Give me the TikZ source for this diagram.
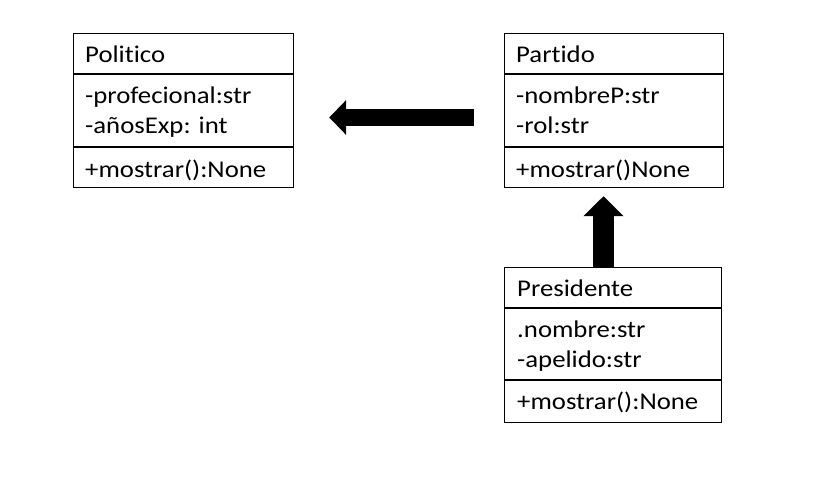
\documentclass[tikz,border=0pt]{standalone}
\usepackage{fontspec}
\setmainfont{Carlito}[FakeStretch=1.115, Ligatures=NoCommon]
\usetikzlibrary{arrows.meta}
\begin{document}
\begin{tikzpicture}[x=1pt,y=-1pt,
  box/.style={draw, line width=1.2pt, rectangle, inner sep=0pt, anchor=north west},
  txt/.style={anchor=base west, inner sep=0pt, font=\fontsize{24}{28}\selectfont},
  sep/.style={line width=1.2pt},
  bigarrow/.style={line width=17pt, -{Triangle[length=17pt,width=34pt]}}]
\useasboundingbox (0,0) rectangle (832,491);
% Politico
\node[box, minimum width=220pt, minimum height=154pt] (politico) at (73,33) {};
\draw[sep] (73,74) -- (293,74);
\draw[sep] (73,147) -- (293,147);
\node[txt] (p1) at (85,62) {Politico};
\node[txt] (p2) at (85,103) {-profecional:str};
\node[txt] (p3) at (85,133) {-añosExp: int};
\node[txt] (p4) at (85,177) {+mostrar():None};
% Partido
\node[box, minimum width=219pt, minimum height=154pt] (partido) at (504,33) {};
\draw[sep] (504,74) -- (723,74);
\draw[sep] (504,147) -- (723,147);
\node[txt] (q1) at (516,62) {Partido};
\node[txt] (q2) at (516,103) {-nombreP:str};
\node[txt] (q3) at (516,133) {-rol:str};
\node[txt] (q4) at (516,177) {+mostrar()None};
% Presidente
\node[box, minimum width=217pt, minimum height=155pt] (presidente) at (504,267) {};
\draw[sep] (504,308) -- (721,308);
\draw[sep] (504,380) -- (721,380);
\node[txt] (r1) at (517,296) {Presidente};
\node[txt] (r2) at (517,337) {.nombre:str};
\node[txt] (r3) at (517,367) {-apelido:str};
\node[txt] (r4) at (517,409) {+mostrar():None};
% arrows
\draw[bigarrow, shorten <=30pt, shorten >=35pt] (partido.west |- 0,117.5) -- (politico.east |- 0,117.5);
\draw[line width=21pt, -{Triangle[length=20pt,width=39pt]}, shorten >=8pt] (presidente.north -| 603.5,0) -- (partido.south -| 603.5,0);
\end{tikzpicture}
\end{document}
